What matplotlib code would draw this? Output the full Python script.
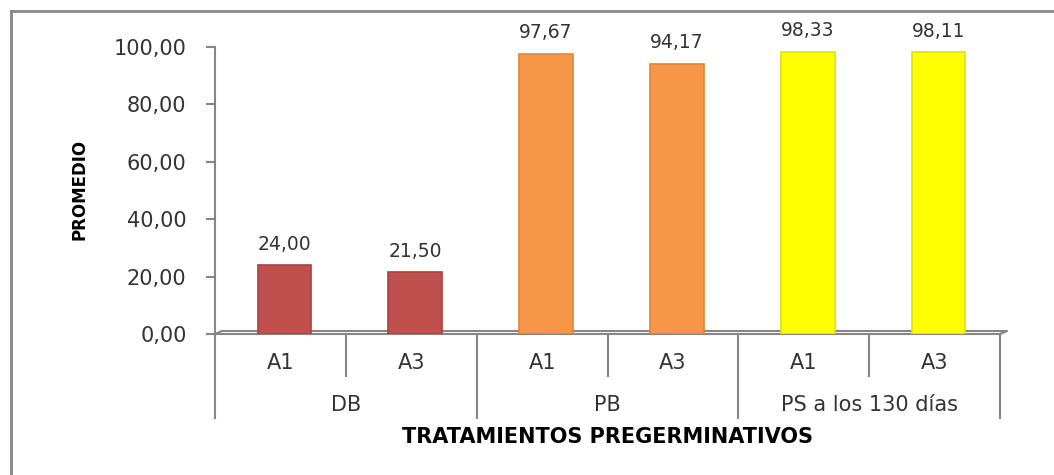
import matplotlib
matplotlib.use("Agg")
import matplotlib.pyplot as plt
from matplotlib.lines import Line2D
import matplotlib.transforms as mtransforms

# Datos
grupos = ["DB", "PB", "PS a los 130 días"]
subcats = ["A1", "A3", "A1", "A3", "A1", "A3"]
promedios = [24.00, 21.50, 97.67, 94.17, 98.33, 98.11]
colores_grupo = ["#C0504D", "#F79646", "#FFFF00"]
bordes_grupo = ["#A8423F", "#E0843A", "#E0E000"]
yticks = [0, 20, 40, 60, 80, 100]

GRIS = "#868686"
TEXTO = "#333333"


def coma(v):
    return f"{v:.2f}".replace(".", ",")


fig = plt.figure(figsize=(10.54, 4.75), dpi=100)
ax = fig.add_axes([0.204, 0.2968, 0.7448, 0.6042])

# Barras
xs = [i + 0.5 + 0.03 for i in range(len(promedios))]
cores = [colores_grupo[i // 2] for i in range(len(promedios))]
bordes = [bordes_grupo[i // 2] for i in range(len(promedios))]
ax.bar(xs, promedios, width=0.41, color=cores, edgecolor=bordes, linewidth=1.2, zorder=3)

for x, v in zip(xs, promedios):
    ax.annotate(coma(v), (x, v), xytext=(0, 15), textcoords="offset points",
                ha="center", va="center", fontsize=13.5, color=TEXTO)

ax.set_xlim(0, 6)
ax.set_ylim(0, 100)
ax.set_yticks(yticks)
ax.set_yticklabels([coma(t) for t in yticks], fontsize=15, color=TEXTO)
ax.tick_params(axis="y", length=6.5, width=1.5, color=GRIS, pad=14)
ax.set_xticks([])

for s in ["top", "right"]:
    ax.spines[s].set_visible(False)
ax.spines["left"].set_color(GRIS)
ax.spines["left"].set_linewidth(1.5)
ax.spines["left"].set_bounds(0, 100)
ax.spines["bottom"].set_color(GRIS)
ax.spines["bottom"].set_linewidth(1.5)

# Piso en 3D
dx, dy = 0.0089, 0.0105
ax.plot([0, dx, 1 + dx, 1], [0, dy, dy, 0], color=GRIS, lw=1.5,
        transform=ax.transAxes, clip_on=False, zorder=2)

# Eje de categorias jerarquico
tr = mtransforms.blended_transform_factory(ax.transData, ax.transAxes)
for b in [0, 2, 4, 6]:
    ax.plot([b, b], [0, -0.2927], color=GRIS, lw=1.5, transform=tr, clip_on=False)
for b in [1, 3, 5]:
    ax.plot([b, b], [0, -0.1463], color=GRIS, lw=1.5, transform=tr, clip_on=False)

for i, lab in enumerate(subcats):
    ax.text(i + 0.5, -0.101, lab, transform=tr, ha="center", va="center",
            fontsize=15, color=TEXTO)
for i, g in enumerate(grupos):
    ax.text(2 * i + 1, -0.247, g, transform=tr, ha="center", va="center",
            fontsize=15, color=TEXTO)

ax.text(0.5, -0.359, "TRATAMIENTOS PREGERMINATIVOS", transform=ax.transAxes,
        ha="center", va="center", fontsize=15, fontweight="bold", color="black")
fig.text(79 / 1054, 1 - 189 / 475, "PROMEDIO", rotation=90, ha="center", va="center",
         fontsize=12, fontweight="bold", color="black")

# Marco exterior
fig.add_artist(Line2D([11 / 1054, 1], [1 - 11 / 475, 1 - 11 / 475], color=GRIS, lw=2))
fig.add_artist(Line2D([11 / 1054, 11 / 1054], [0, 1 - 11 / 475], color=GRIS, lw=2))

fig.savefig("out.png", dpi=100)
plt.close(fig)
